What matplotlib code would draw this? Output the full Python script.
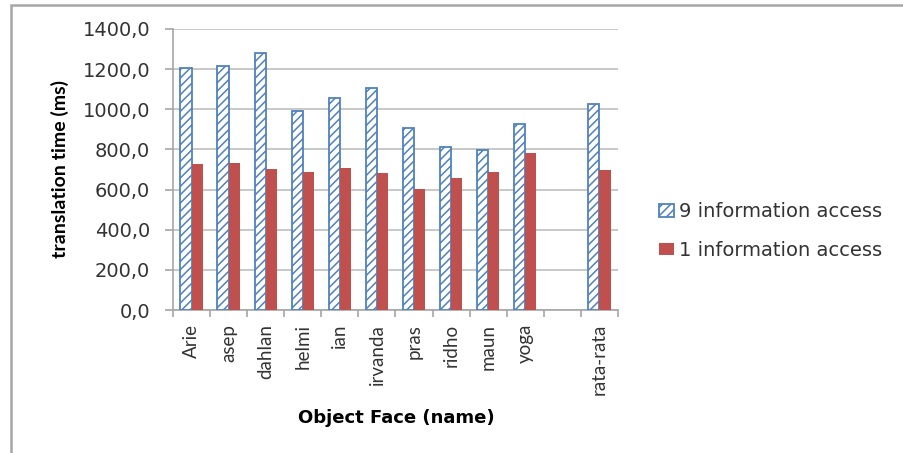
import matplotlib
matplotlib.use("Agg")
import matplotlib.pyplot as plt
from matplotlib.patches import Rectangle, Patch
import numpy as np

categories = ["Arie", "asep", "dahlan", "helmi", "ian", "irvanda", "pras",
              "ridho", "maun", "yoga", "", "rata-rata"]
access9 = [1207, 1214, 1279, 990, 1055, 1104, 905, 812, 797, 925, None, 1028]
access1 = [726, 730, 704, 689, 709, 684, 603, 659, 688, 784, None, 698]
series_labels = ["9 information access", "1 information access"]
yticks = [0, 200, 400, 600, 800, 1000, 1200, 1400]

plt.rcParams['font.family'] = ['DejaVu Sans']
plt.rcParams['hatch.linewidth'] = 1.1

BLUE = "#4F81BD"
RED = "#C0504D"
TXT = "#333333"

fig = plt.figure(figsize=(9.04, 4.53), dpi=100)
ax = fig.add_axes([173/904, 1-310/453, (618-173)/904, (310-29)/453])

x = np.arange(len(categories))
w = 0.3
v9 = [np.nan if v is None else v for v in access9]
v1 = [np.nan if v is None else v for v in access1]
ax.bar(x - w/2, v9, width=w, facecolor="white", edgecolor=BLUE,
       hatch="////", linewidth=1.3, zorder=3)
ax.bar(x + w/2, v1, width=w, facecolor=RED, edgecolor="none", zorder=3)

ax.set_xlim(-0.5, len(categories) - 0.5)
ax.set_ylim(0, 1400)
ax.set_yticks(yticks)
ax.set_yticklabels([f"{v:.1f}".replace(".", ",") for v in yticks])
ax.set_xticks(x)
ax.set_xticklabels(categories, rotation=90, va="top", ha="center",
                   family=["Lato", "DejaVu Sans"])
ax.set_xticks(np.arange(-0.5, len(categories)), minor=True)
ax.tick_params(axis="x", which="major", length=0, pad=10, labelsize=13.5,
               labelcolor=TXT)
ax.tick_params(axis="x", which="minor", length=5, color="#A6A6A6", width=1.2)
ax.tick_params(axis="y", which="major", length=6, color="#A6A6A6", width=1.2,
               pad=10.5, labelsize=14, labelcolor=TXT)

ax.grid(axis="y", color="#BFBFBF", linewidth=1.2, zorder=0)
for s in ["top", "right"]:
    ax.spines[s].set_visible(False)
for s in ["left", "bottom"]:
    ax.spines[s].set_color("#A6A6A6")
    ax.spines[s].set_linewidth(1.2)

fig.text(60/904, 1-169/453, "translation time (ms)", rotation=90,
         fontsize=14, fontweight="bold", ha="center", va="center",
         color="black", family=["Lato", "DejaVu Sans"])
fig.text(396/904, 1-418/453, "Object Face (name)", fontsize=13,
         fontweight="bold", ha="center", va="center", color="black")

handles = [Patch(facecolor="white", edgecolor=BLUE, hatch="////", linewidth=1.3),
           Patch(facecolor=RED, edgecolor="none")]
fig.legend(handles, series_labels, loc="center left",
           bbox_to_anchor=(659/904, 1-231/453), frameon=False, fontsize=14,
           handlelength=0.77, handleheight=0.62, handletextpad=0.26,
           labelspacing=1.0, labelcolor=TXT, borderpad=0, borderaxespad=0)

border = Rectangle((11/904, -0.1), 1.2, 1-5/453+0.1, transform=fig.transFigure,
                   fill=False, edgecolor="#A6A6A6", linewidth=1.8)
fig.patches.append(border)

fig.savefig("out.png", dpi=100, facecolor="white")
